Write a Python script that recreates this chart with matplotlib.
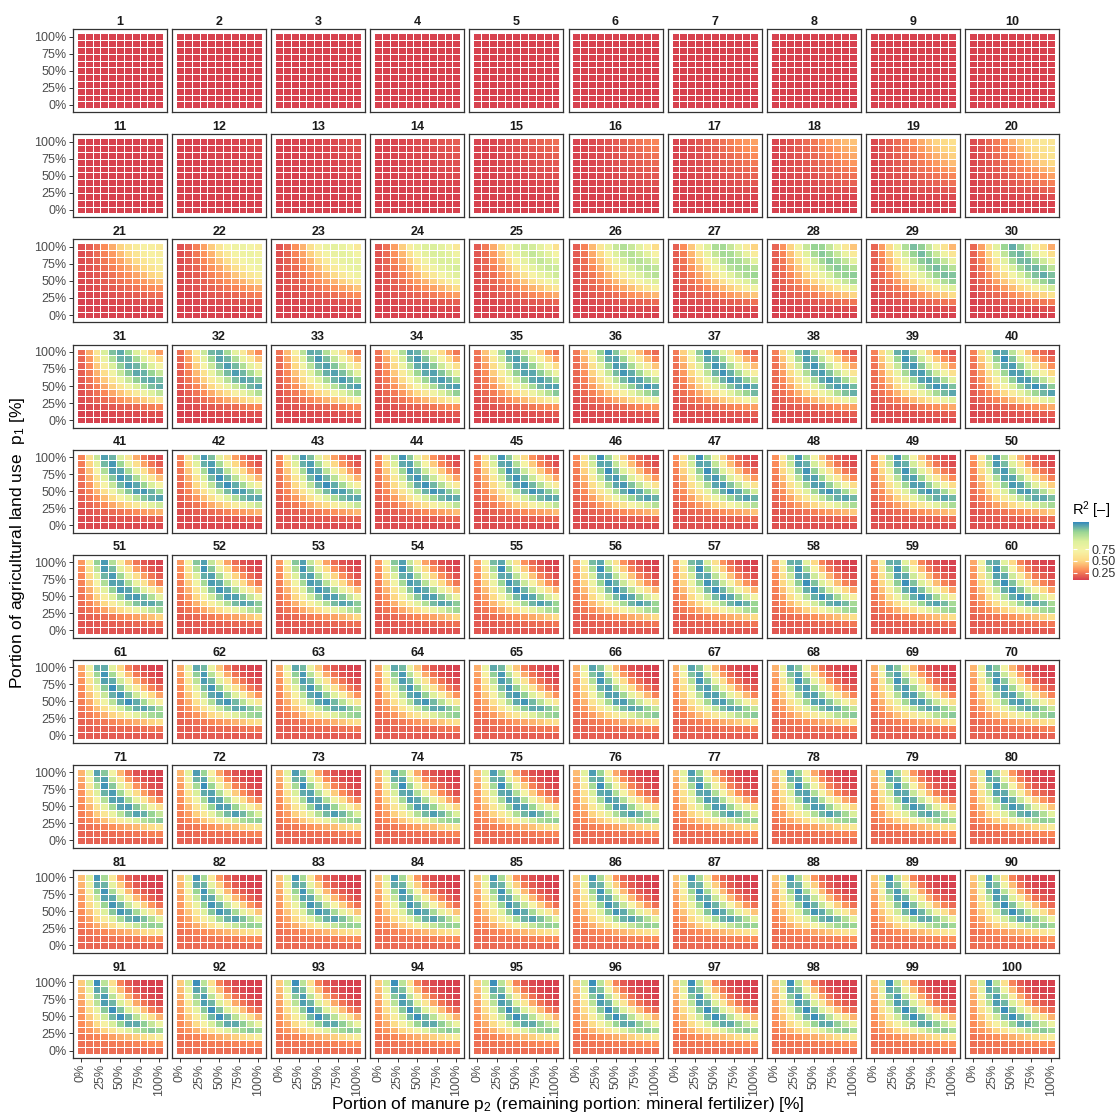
import numpy as np
import matplotlib
matplotlib.use("Agg")
import matplotlib.pyplot as plt
from matplotlib.colors import LinearSegmentedColormap, Normalize
from matplotlib.cm import ScalarMappable

plt.rcParams['font.family'] = ['Liberation Sans', 'DejaVu Sans']
plt.rcParams['mathtext.fontset'] = 'custom'
plt.rcParams['mathtext.rm'] = 'Liberation Sans'
plt.rcParams['mathtext.it'] = 'Liberation Sans:italic'

# shares on both axes (%)
p1_levels = [0, 10, 20, 30, 40, 50, 60, 70, 80, 90, 100]
p2_levels = [0, 10, 20, 30, 40, 50, 60, 70, 80, 90, 100]
tick_pos = [0, 25, 50, 75, 100]
tick_lab = ['0%', '25%', '50%', '75%', '100%']

panel_ids = list(range(1, 101))

# per panel:
# where the R2 ridge sits (in units of p1*(p2+0.1)), how high it gets,
# and the R2 at zero input (bottom row)
peak_x = [1.5, 1.5, 1.5, 1.5, 1.5, 1.5, 1.5, 1.5, 1.5, 1.5,
          1.5, 1.5, 1.5, 1.5, 1.5, 1.4, 1.3, 1.2, 1.1, 1.0,
          0.92, 0.86, 0.80, 0.76, 0.72, 0.69, 0.66, 0.64, 0.62, 0.60,
          0.58, 0.56, 0.54, 0.53, 0.52, 0.50, 0.49, 0.47, 0.46, 0.45,
          0.43, 0.42, 0.42, 0.41, 0.41, 0.40, 0.40, 0.39, 0.39, 0.38,
          0.38, 0.37, 0.37, 0.37, 0.36, 0.36, 0.36, 0.35, 0.35, 0.35,
          0.35, 0.34, 0.34, 0.34, 0.34, 0.33, 0.33, 0.33, 0.33, 0.33,
          0.33, 0.32, 0.32, 0.32, 0.32, 0.32, 0.32, 0.32, 0.31, 0.31,
          0.31, 0.31, 0.31, 0.31, 0.31, 0.31, 0.31, 0.31, 0.30, 0.30,
          0.30, 0.30, 0.30, 0.30, 0.30, 0.30, 0.30, 0.30, 0.30, 0.30]
peak_r2 = [0.10, 0.10, 0.10, 0.10, 0.10, 0.10, 0.10, 0.10, 0.10, 0.10,
           0.11, 0.13, 0.16, 0.20, 0.26, 0.32, 0.38, 0.46, 0.55, 0.62,
           0.70, 0.80, 0.86, 0.95, 1.00, 1.06, 1.12, 1.17, 1.21, 1.24,
           1.27, 1.28, 1.29, 1.30, 1.30, 1.31, 1.31, 1.31, 1.32, 1.32,
           1.32, 1.32, 1.32, 1.32, 1.32, 1.32, 1.32, 1.32, 1.32, 1.32,
           1.32, 1.32, 1.32, 1.32, 1.32, 1.32, 1.32, 1.32, 1.32, 1.32,
           1.32, 1.32, 1.32, 1.32, 1.32, 1.32, 1.32, 1.32, 1.32, 1.32,
           1.32, 1.32, 1.32, 1.32, 1.32, 1.32, 1.32, 1.32, 1.32, 1.32,
           1.32, 1.32, 1.32, 1.32, 1.32, 1.32, 1.32, 1.32, 1.32, 1.32,
           1.32, 1.32, 1.32, 1.32, 1.32, 1.32, 1.32, 1.32, 1.32, 1.32]
base_r2 = [0.10, 0.10, 0.10, 0.10, 0.10, 0.10, 0.10, 0.10, 0.10, 0.10,
           0.10, 0.10, 0.10, 0.10, 0.10, 0.10, 0.10, 0.10, 0.10, 0.10,
           0.10, 0.10, 0.10, 0.10, 0.10, 0.10, 0.10, 0.10, 0.10, 0.10,
           0.10, 0.10, 0.11, 0.11, 0.11, 0.11, 0.12, 0.12, 0.12, 0.12,
           0.12, 0.12, 0.13, 0.13, 0.13, 0.13, 0.14, 0.14, 0.14, 0.14,
           0.15, 0.15, 0.15, 0.15, 0.16, 0.16, 0.16, 0.16, 0.16, 0.17,
           0.17, 0.17, 0.17, 0.17, 0.18, 0.18, 0.18, 0.18, 0.18, 0.19,
           0.19, 0.19, 0.19, 0.19, 0.20, 0.20, 0.20, 0.20, 0.20, 0.20,
           0.20, 0.21, 0.21, 0.21, 0.21, 0.21, 0.21, 0.21, 0.21, 0.22,
           0.22, 0.22, 0.22, 0.22, 0.22, 0.22, 0.22, 0.22, 0.22, 0.22]
floor_r2 = 0.10

rise_u = [0.0, 0.25, 0.5, 0.7, 0.85, 1.0]
rise_g = [0.0, 0.14, 0.40, 0.73, 0.92, 1.0]
fall_d = [0.0, 0.15, 0.3, 0.5, 0.75, 1.0, 1.4, 2.0]
fall_h = [1.0, 0.93, 0.80, 0.55, 0.30, 0.14, 0.04, 0.0]
# ridge height is lower for small p1
ridge_scale = [1.0, 0.42, 0.60, 0.88, 0.97, 1.0, 1.0, 1.0, 1.0, 1.0, 1.0]

spectral = ['#D53E4F', '#FC8D59', '#FDD985', '#F6F3A6', '#DDF09C', '#99D594', '#3288BD']
cmap = LinearSegmentedColormap.from_list('spec', spectral)
vmin, vmax = 0.09, 1.34
norm = Normalize(vmin, vmax)

W, H = 1116, 1117
fig = plt.figure(figsize=(W / 100, H / 100), dpi=100)

edges = np.array(p2_levels + [110]) - 5
P1, P2 = np.meshgrid(np.array(p1_levels) / 100, np.array(p2_levels) / 100, indexing='ij')
S = np.array(ridge_scale)[:, None] * np.ones_like(P2)

for i, k in enumerate(panel_ids):
    r, c = divmod(i, 10)
    left = 73 + c * 99.1
    top = 29.3 + r * 105.07
    ax = fig.add_axes([left / W, 1 - (top + 83) / H, 94 / W, 83 / H])

    x = P1 * (P2 + 0.1)
    u = x / peak_x[i]
    hi = np.maximum(peak_r2[i] * S, base_r2[i])
    z = np.where(u <= 1,
                 base_r2[i] + (hi - base_r2[i]) * np.interp(u, rise_u, rise_g),
                 floor_r2 + (hi - floor_r2) * np.interp(u - 1, fall_d, fall_h))

    ax.pcolormesh(edges, edges, z, cmap=cmap, norm=norm,
                  edgecolors='white', linewidth=0.45)
    ax.set_xlim(-10.1, 110.1)
    ax.set_ylim(-10.9, 110.9)
    for sp in ax.spines.values():
        sp.set_color('#333333')
        sp.set_linewidth(0.9)
    ax.set_title(str(k), fontsize=9, fontweight='bold', color='#1a1a1a', pad=3)

    ax.set_xticks(tick_pos)
    ax.set_yticks(tick_pos)
    ax.tick_params(length=3, width=0.7, color='#333333', labelsize=9,
                   labelcolor='#4d4d4d', pad=1.5)
    if r == 9:
        ax.set_xticklabels(tick_lab, rotation=90)
    else:
        ax.tick_params(axis='x', length=0, labelbottom=False)
    if c == 0:
        ax.set_yticklabels(tick_lab)
    else:
        ax.tick_params(axis='y', length=0, labelleft=False)

fig.text(18 / W, 1 - 543 / H, 'Portion of agricultural land use  p$_1$ [%]',
         rotation=90, ha='center', va='center', fontsize=12.5)
fig.text(568 / W, 1 - 1105 / H,
         'Portion of manure p$_2$ (remaining portion: mineral fertilizer) [%]',
         ha='center', va='center', fontsize=12.5)

cax = fig.add_axes([1073 / W, 1 - 580 / H, 16 / W, 58 / H])
cb = fig.colorbar(ScalarMappable(norm=norm, cmap=cmap), cax=cax, ticks=[0.25, 0.5, 0.75])
cb.outline.set_visible(False)
cb.ax.set_yticklabels(['0.25', '0.50', '0.75'])
cb.ax.tick_params(direction='in', length=3, color='white', width=0.8,
                  left=True, right=True, labelsize=9, labelcolor='#333333', pad=2)
fig.text(1072 / W, 1 - 510 / H, 'R$^2$ [–]', ha='left', va='center', fontsize=10.5)

fig.savefig('out.png', dpi=100)
